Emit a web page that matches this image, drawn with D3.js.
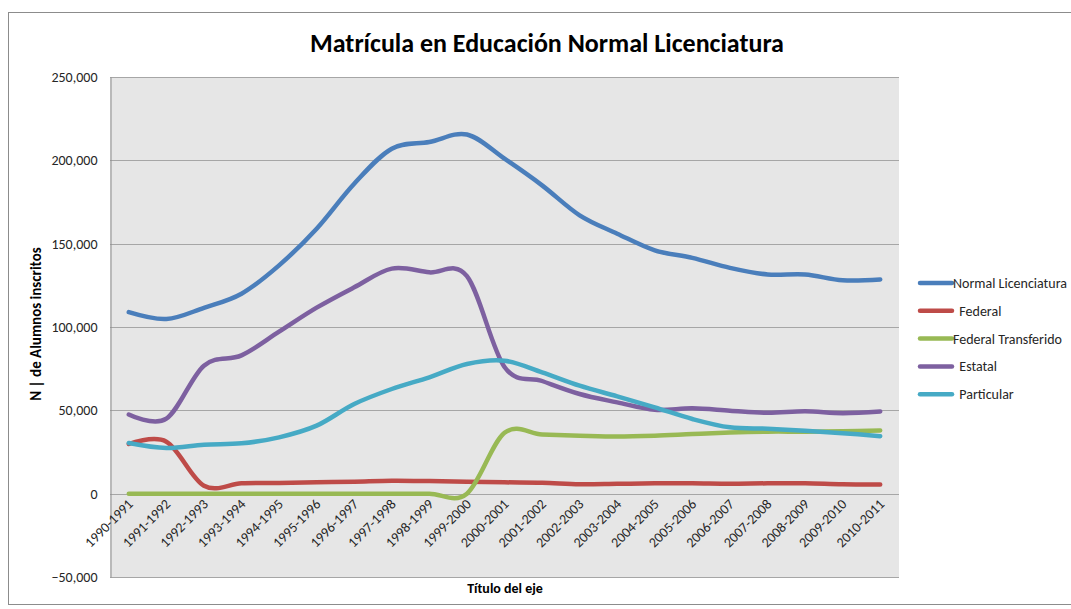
<!DOCTYPE html>
<html>
<head>
<meta charset="utf-8">
<script src="https://cdn.jsdelivr.net/npm/d3@7"></script>
<style>
  body { margin: 0; background: #fff; }
  text { font-family: Carlito, Lato, "Open Sans", sans-serif; }
</style>
</head>
<body>
<svg id="chart" width="1071" height="609"></svg>
<script>
// school years on the x axis
var years = ["1990-1991", "1991-1992", "1992-1993", "1993-1994", "1994-1995", "1995-1996",
  "1996-1997", "1997-1998", "1998-1999", "1999-2000", "2000-2001", "2001-2002", "2002-2003",
  "2003-2004", "2004-2005", "2005-2006", "2006-2007", "2007-2008", "2008-2009", "2009-2010", "2010-2011"];

// enrolment per series
var normalLic = [108900, 104800, 111500, 120000, 137000, 159000, 186000, 207000, 211000, 215500, 201000,
  185000, 167000, 156000, 146000, 141500, 135500, 131500, 131500, 128000, 128500];
var federal = [29800, 31200, 4800, 6200, 6400, 6800, 7200, 7800, 7600, 7200, 6800,
  6600, 5600, 5900, 6200, 6200, 5900, 6200, 6200, 5600, 5500];
var fedTransferido = [0, 0, 0, 0, 0, 0, 0, 0, 0, 0, 36500,
  35500, 34800, 34300, 34800, 35800, 36700, 37200, 37200, 37400, 37900];
var estatal = [47500, 45000, 76800, 83000, 97200, 111600, 123800, 135000, 132800, 130500, 76000,
  67600, 59800, 54800, 50300, 51200, 49800, 48500, 49400, 48300, 49300];
var particular = [30400, 27400, 29400, 30200, 33800, 40800, 53800, 62800, 69800, 77800, 79800,
  72800, 64800, 58400, 51800, 44800, 39800, 39000, 37800, 36300, 34500];

var yTicks = [-50000, 0, 50000, 100000, 150000, 200000, 250000];

var series = [
  { name: "Normal Licenciatura", label: "Normal Licenciatura", values: normalLic, color: "#4a7ebb" },
  { name: "Federal", label: "\u00a0\u00a0Federal", values: federal, color: "#be4b48" },
  { name: "Federal Transferido", label: "Federal Transferido", values: fedTransferido, color: "#98b954" },
  { name: "Estatal", label: "\u00a0\u00a0Estatal", values: estatal, color: "#7d60a0" },
  { name: "Particular", label: "\u00a0\u00a0Particular", values: particular, color: "#46aac5" }
];

var svg = d3.select("#chart");
var plot = { left: 110, top: 77, right: 899, bottom: 577 };

// outer chart frame
svg.append("rect")
  .attr("x", 8.5).attr("y", 12.5)
  .attr("width", 1100).attr("height", 592)
  .attr("fill", "#fff").attr("stroke", "#8c8c8c");

var x = d3.scalePoint()
  .domain(years)
  .range([plot.left, plot.right])
  .padding(0.5);

var y = d3.scaleLinear()
  .domain([-50000, 250000])
  .range([plot.bottom, plot.top]);

svg.append("rect")
  .attr("x", plot.left).attr("y", plot.top)
  .attr("width", plot.right - plot.left).attr("height", plot.bottom - plot.top)
  .attr("fill", "#e6e6e6");

// gridlines
svg.append("g")
  .selectAll("line")
  .data(yTicks)
  .join("line")
    .attr("x1", plot.left).attr("x2", plot.right)
    .attr("y1", d => Math.round(y(d)) + 0.5).attr("y2", d => Math.round(y(d)) + 0.5)
    .attr("stroke", "#a6a6a6").attr("stroke-width", 1);

// y axis
var yAxis = svg.append("g")
  .attr("transform", "translate(" + (plot.left + 0.5) + ",0)")
  .call(d3.axisLeft(y).tickValues(yTicks).tickFormat(d3.format(",")).tickSize(0).tickPadding(13));
yAxis.select(".domain").attr("stroke", "#8c8c8c");
yAxis.selectAll("text").attr("font-size", 14).attr("fill", "#262626");

// category labels, rotated
svg.append("g")
  .selectAll("text")
  .data(years)
  .join("text")
    .attr("transform", d => "translate(" + (x(d) + 5) + "," + 505 + ") rotate(-45)")
    .attr("text-anchor", "end")
    .attr("font-size", 14)
    .attr("fill", "#262626")
    .text(d => d);

// smoothed lines like the spreadsheet's
var line = d3.line()
  .x((d, i) => x(years[i]))
  .y(d => y(d))
  .curve(d3.curveCardinal.tension(0));

svg.append("g")
  .selectAll("path")
  .data(series)
  .join("path")
    .attr("d", d => line(d.values))
    .attr("fill", "none")
    .attr("stroke", d => d.color)
    .attr("stroke-width", 4.5)
    .attr("stroke-linecap", "round")
    .attr("stroke-linejoin", "round");

// legend
var legend = svg.append("g")
  .selectAll("g")
  .data(series)
  .join("g")
    .attr("transform", (d, i) => "translate(920," + (283 + i * 27.8) + ")");
legend.append("line")
  .attr("x1", 0).attr("x2", 32)
  .attr("stroke", d => d.color)
  .attr("stroke-width", 4.5)
  .attr("stroke-linecap", "round");
legend.append("text")
  .attr("x", 33).attr("dy", "0.35em")
  .attr("font-size", 14)
  .attr("fill", "#262626")
  .text(d => d.label);

// titles
svg.append("text")
  .attr("x", 547).attr("y", 52)
  .attr("text-anchor", "middle")
  .attr("font-size", 26).attr("font-weight", "bold")
  .attr("fill", "#000")
  .text("Matrícula en Educación Normal Licenciatura");

svg.append("text")
  .attr("transform", "translate(41,324) rotate(-90)")
  .attr("text-anchor", "middle")
  .attr("font-size", 15).attr("font-weight", "bold")
  .attr("fill", "#000")
  .text("N | de Alumnos inscritos");

svg.append("text")
  .attr("x", 505).attr("y", 593)
  .attr("text-anchor", "middle")
  .attr("font-size", 14).attr("font-weight", "bold")
  .attr("fill", "#000")
  .text("Título del eje");
</script>
</body>
</html>
